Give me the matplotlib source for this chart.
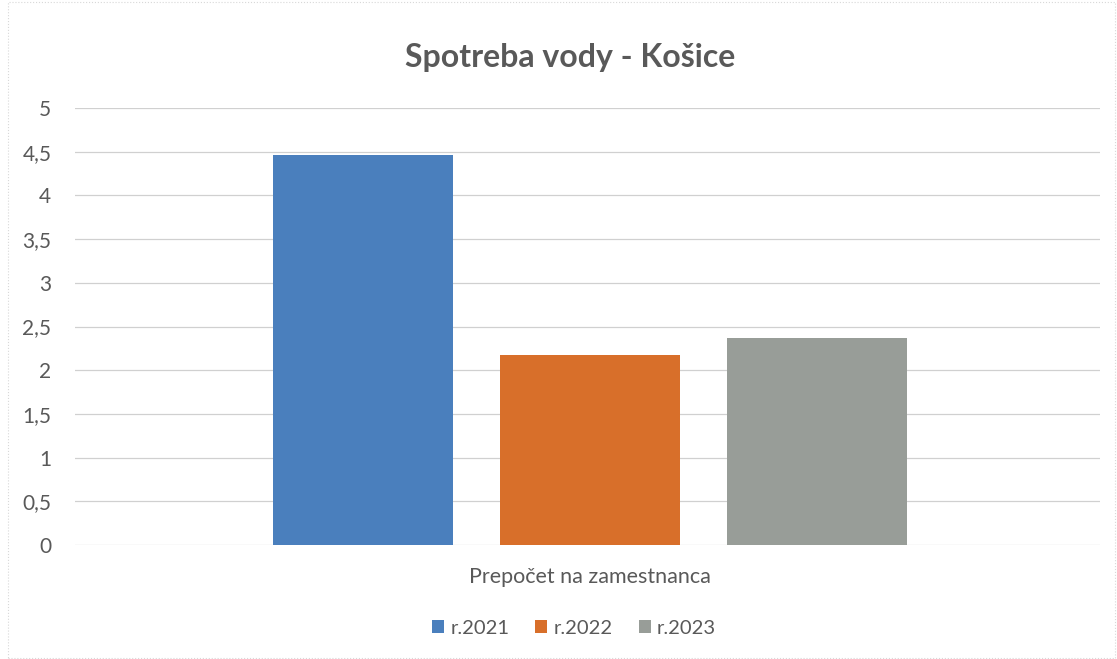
import matplotlib
matplotlib.use("Agg")
import matplotlib.pyplot as plt
from matplotlib.ticker import FuncFormatter
from matplotlib.patches import Rectangle

title = "Spotreba vody - Košice"
category = "Prepočet na zamestnanca"
series = ["r.2021", "r.2022", "r.2023"]
values = [4.46, 2.17, 2.37]
colors = ["#4a7fbd", "#d86f2a", "#989d98"]
yticks = [0, 0.5, 1, 1.5, 2, 2.5, 3, 3.5, 4, 4.5, 5]

plt.rcParams['font.family'] = ['Lato', 'DejaVu Sans']
fig = plt.figure(figsize=(11.17, 6.59), dpi=100)
ax = fig.add_axes([75/1117, 1-545/659, 1025/1117, (545-108)/659])

width = 0.1756
step = 0.2215
for i, (s, v, c) in enumerate(zip(series, values, colors)):
    ax.bar((i - 1) * step + 0.0025, v, width=width, color=c, label=s, zorder=2)

ax.set_xlim(-0.5, 0.5)
ax.set_ylim(0, 5)
ax.set_yticks(yticks)
ax.yaxis.set_major_formatter(FuncFormatter(lambda v, p: f"{v:g}".replace('.', ',')))
ax.set_xticks([])
ax.grid(axis='y', color='#d0d0d0', linewidth=0.9, zorder=0)
for sp in ax.spines.values():
    sp.set_visible(False)
ax.tick_params(axis='y', length=0, pad=17, labelsize=15, labelcolor='#595959')

fig.text(590/1117, 1-577/659, category, ha='center', va='center', fontsize=15.5, color='#595959')
fig.text(570/1117, 1-57/659, title, ha='center', va='center', fontsize=23, fontweight='bold', color='#595959')

leg = fig.legend(loc='center', bbox_to_anchor=(574/1117, 1-628/659), ncol=3, frameon=False,
                 fontsize=14.5, handlelength=0.6, handleheight=0.6, handletextpad=0.3, columnspacing=1.3)
for t in leg.get_texts():
    t.set_color('#595959')

fig.patches.append(Rectangle((8/1117, 0.002), 1-10/1117, 0.995, transform=fig.transFigure,
                             fill=False, edgecolor='#d8d8d8', linewidth=0.8, linestyle=':'))

fig.savefig("out.png", dpi=100)
